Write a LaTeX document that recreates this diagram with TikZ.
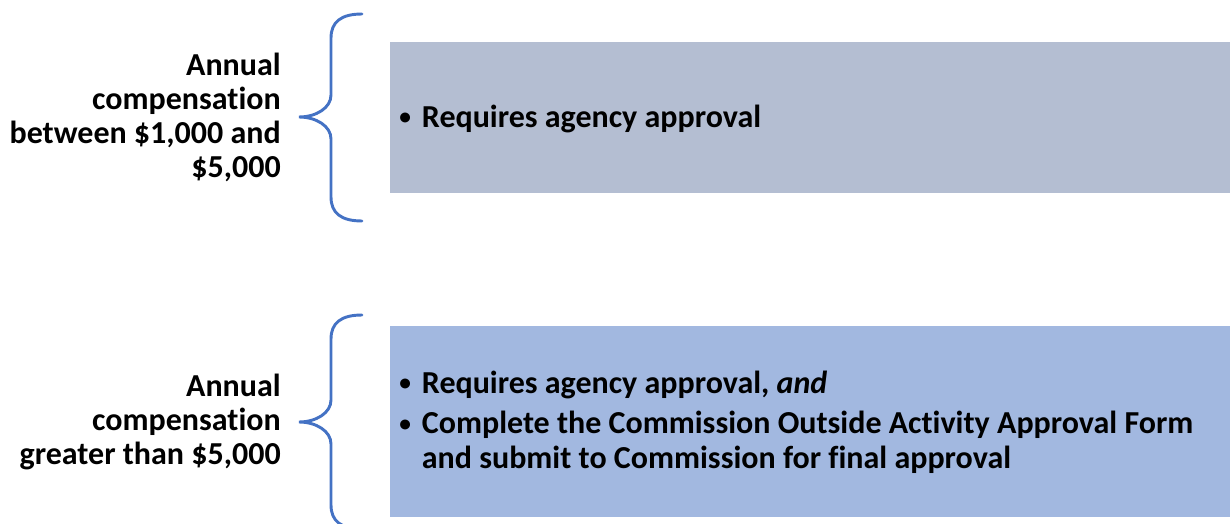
\documentclass[tikz,border=0pt]{standalone}
\usepackage{fontspec}
\setmainfont{Carlito}[Ligatures=NoCommon]
\begin{document}
\begin{tikzpicture}[x=0.75pt,y=-0.75pt,
  bracestyle/.style={draw=braceblue,line width=2.2pt,line cap=round},
  label/.style={anchor=east,align=right,inner sep=0pt,font=\fontsize{24}{25.5}\selectfont\bfseries},
  itemtext/.style={anchor=west,align=left,inner sep=0pt,font=\fontsize{24}{26.25}\selectfont\bfseries}]
\definecolor{braceblue}{HTML}{4472C4}
\definecolor{boxgray}{HTML}{B4BED2}
\definecolor{boxblue}{HTML}{A2B8E0}
\newcommand{\bul}{\makebox[17pt][l]{\raisebox{1.8pt}{\fontsize{17.5}{17.5}\selectfont\textbullet}}}
\useasboundingbox (0,0) rectangle (1230,524);

% shaded panels
\node[fill=boxgray,inner sep=0pt,minimum width=630pt,minimum height=113.25pt,anchor=north west] (boxa) at (390,42) {};
\node[fill=boxblue,inner sep=0pt,minimum width=630pt,minimum height=143.25pt,anchor=north west] (boxb) at (390,326) {};

% left labels
\node[label] (laba) at (281,117.5) {Annual\\compensation\\between \$1,000 and\\\$5,000};
\node[label] (labb) at (281,421.5) {Annual\\compensation\\greater than \$5,000};

% braces
\draw[bracestyle] (362,14) .. controls (341,14) and (331,22) .. (331,38) -- (331,95)
  .. controls (331,108) and (316,117) .. (299,117)
  .. controls (316,117) and (331,126) .. (331,139) -- (331,197)
  .. controls (331,213) and (341,221) .. (362,221);
\draw[bracestyle] (362,315) .. controls (341,315) and (331,323) .. (331,339) -- (331,400)
  .. controls (331,413) and (316,422) .. (299,422)
  .. controls (316,422) and (331,431) .. (331,444) -- (331,505)
  .. controls (331,521) and (341,529) .. (362,529);

% panel texts
\node[itemtext] (ta) at (399,118.5) {\bul Requires agency approval};
\node[itemtext] (tb) at (399,424) {%
  \begin{tabular}{@{}l@{}l@{}}
  \bul & Requires agency approval, \textit{and}\\[4pt]
  \bul & Complete the Commission Outside Activity Approval Form\\
  & and submit to Commission for final approval
  \end{tabular}};
\end{tikzpicture}
\end{document}
